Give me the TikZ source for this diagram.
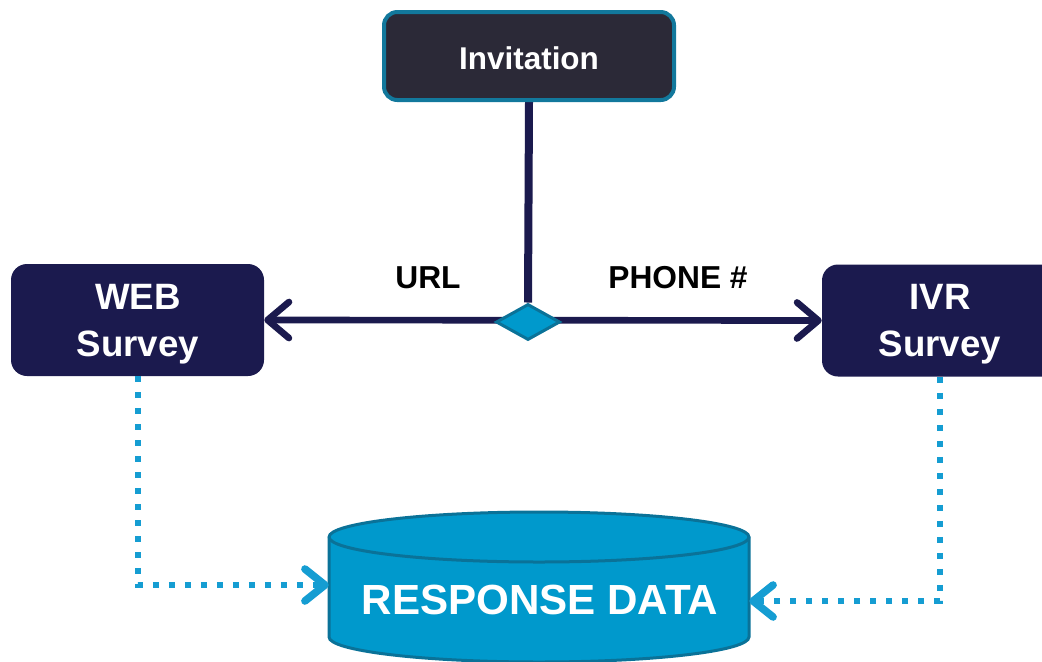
\documentclass[tikz,border=0pt]{standalone}
\usepackage{fontspec}
\setmainfont{Liberation Sans}
\usetikzlibrary{arrows.meta,shapes.geometric}
\definecolor{navy}{HTML}{1B1A4E}
\definecolor{inkdark}{HTML}{2B2937}
\definecolor{tealedge}{HTML}{12789C}
\definecolor{cyanfill}{HTML}{0099CC}
\definecolor{cyanedge}{HTML}{0A7298}
\definecolor{dotcol}{HTML}{159DD2}
\pgfdeclarelayer{background}
\pgfsetlayers{background,main}

\tikzset{
  invbox/.style={draw=tealedge, line width=3pt, fill=inkdark, rounded corners=10pt,
    minimum width=217.5pt, minimum height=66pt, inner sep=0pt},
  invtext/.style={text=white, inner sep=0pt, font=\fontsize{23.6}{28}\selectfont\bfseries},
  surveybox/.style={fill=navy, rounded corners=12pt, minimum height=84pt, inner sep=0pt},
  surveytext/.style={text=white, align=center, inner sep=0pt,
    font=\fontsize{27.5}{35.25}\selectfont\bfseries},
  lbl/.style={text=black, font=\fontsize{23.8}{28}\selectfont\bfseries, inner sep=0pt},
  hubmark/.style={diamond, minimum width=48pt, minimum height=27pt, inner sep=0pt,
    fill=cyanfill, draw=cyanedge, line width=2.25pt},
  navyline/.style={draw=navy, line width=5pt},
  bothtips/.style={>={Straight Barb[length=16pt, width=27pt, round]}, <->},
  dotline/.style={draw=dotcol, line width=4.5pt, dash pattern=on 4.5pt off 7.5pt,
    -{Straight Barb[length=15pt, width=24pt, round, line width=1.2pt 1]}},
  cyl/.style={fill=cyanfill, draw=cyanedge, line width=2.25pt}
}

\begin{document}
\begin{tikzpicture}[x=0.75pt, y=-0.75pt]
\useasboundingbox (0,0) rectangle (1042,661);

% boxes
\node[invbox] (inv) at (529,56) {};
\node[invtext] (invlbl) at (529,58) {Invitation};
\node[surveybox, minimum width=189.75pt] (web) at (137.5,320) {};
\node[surveytext] (weblbl) at (138,324) {WEB\\Survey};
\node[surveybox, minimum width=177pt] (ivr) at (940,320.5) {};
\node[surveytext] (ivrlbl) at (940,324) {IVR\\Survey};
\node[hubmark] (hub) at (528,322) {};

% data store
\node[minimum width=315pt, minimum height=112.5pt, inner sep=0pt] (data) at (539,587) {};
\draw[cyl] (329,537) -- (329,637)
  arc[start angle=180, end angle=360, x radius=157.5pt, y radius=18.75pt]
  -- (749,537)
  arc[start angle=0, end angle=180, x radius=157.5pt, y radius=18.75pt] -- cycle;
\draw[cyl, fill=none] (329,537)
  arc[start angle=180, end angle=360, x radius=157.5pt, y radius=18.75pt];
\node[text=white, font=\fontsize{31.6}{36}\selectfont\bfseries, inner sep=0pt] (datalbl) at (540,600) {RESPONSE DATA};

% labels
\node[lbl] (url) at (428,278) {URL};
\node[lbl] (phone) at (678,278) {PHONE \#};

% connectors
\begin{pgfonlayer}{background}
\draw[navyline, line width=6pt] (inv.south) -- (hub.north);
\draw[navyline, bothtips] (web.east) -- (ivr.west);
\end{pgfonlayer}
\draw[dotline] (web.south) |- ([yshift=1.5pt]data.west);
\draw[dotline] (ivr.south) |- ([yshift=-10.5pt]data.east);
\end{tikzpicture}
\end{document}
